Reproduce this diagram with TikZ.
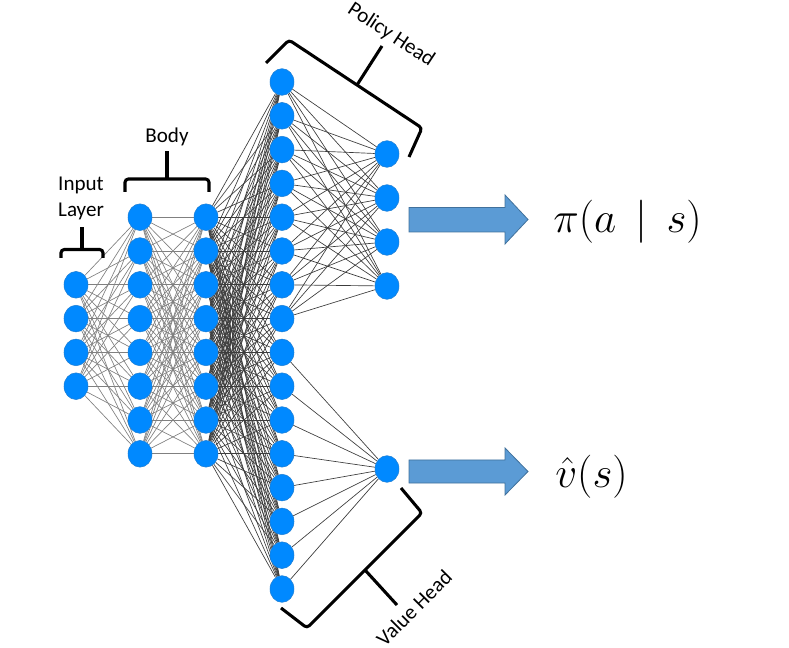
\documentclass[tikz,border=0pt]{standalone}
\usepackage{graphicx}
\usepackage[no-math]{fontspec}
\setmainfont{Carlito}
\usetikzlibrary{shapes.geometric,backgrounds}
\definecolor{nodeblue}{RGB}{0,137,255}
\definecolor{nodeedge}{RGB}{60,115,170}
\definecolor{arrowfill}{RGB}{91,155,213}
\definecolor{arrowedge}{RGB}{65,113,156}
\definecolor{edgegray}{RGB}{60,60,60}
\begin{document}
\begin{tikzpicture}[x=0.75pt,y=-0.75pt,
  neuron/.style={ellipse,fill=nodeblue,draw=nodeedge!50!nodeblue,line width=0.4pt,minimum width=18pt,minimum height=20pt,inner sep=0pt},
  darklink/.style={draw=edgegray,line width=0.5pt},
  lightlink/.style={draw=black!50,line width=0.5pt},
  bracestroke/.style={draw=black,line width=2.3pt,rounded corners=2.5pt},
  txt/.style={font=\fontsize{15.8}{18}\selectfont,inner sep=0pt},
  mathtxt/.style={font=\fontsize{24.88}{30}\selectfont,inner sep=0pt,anchor=west},
  blockarrow/.style={fill=arrowfill,draw=arrowedge,line width=0.6pt}]
\useasboundingbox (0,0) rectangle (789,648);

% layers
\foreach \i in {0,...,3} \node[neuron] (in\i) at (76,{82+33.8*(\i+6)}) {};
\foreach \i in {0,...,7} \node[neuron] (ba\i) at (140,{82+33.8*(\i+4)}) {};
\foreach \i in {0,...,7} \node[neuron] (bb\i) at (206,{82+33.8*(\i+4)}) {};
\foreach \i in {0,...,15} \node[neuron] (big\i) at (282,{82+33.8*\i}) {};
\foreach \i in {0,...,3} \node[neuron] (pol\i) at (387,{154+44*\i}) {};
\node[neuron] (val) at (387,469) {};

% connections
\begin{pgfonlayer}{background}
\foreach \i in {0,...,3} \foreach \j in {0,...,7} \draw[lightlink] (in\i) -- (ba\j);
\foreach \i in {0,...,7} \foreach \j in {0,...,7} \draw[lightlink] (ba\i) -- (bb\j);
\foreach \i in {0,...,7} \foreach \j in {0,...,15} \draw[darklink] (bb\i) -- (big\j);
\foreach \i in {0,...,7} \foreach \j in {0,...,3} \draw[darklink] (big\i) -- (pol\j);
\foreach \i in {8,...,15} \draw[darklink] (big\i) -- (val);
\end{pgfonlayer}

% brackets
\draw[bracestroke] (61,258) -- (61,249.5) -- (103,249.5) -- (103,258);
\draw[bracestroke] (82,249.5) -- (82,227);
\draw[bracestroke] (125,192) -- (125,179) -- (209,179) -- (209,192);
\draw[bracestroke] (167,179) -- (167,151);
\draw[bracestroke] (266,63) -- (289,40) -- (422,128) -- (409,157);
\draw[bracestroke] (357,85) -- (382,46);
\draw[bracestroke] (281,608) -- (307,628) -- (422,513) -- (401,488);
\draw[bracestroke] (365,570) -- (397,605);

% labels
\node[txt,anchor=base] (inputlbl) at (81,191) {Input};
\node[txt,anchor=base] (layerlbl) at (81,217) {Layer};
\node[txt,anchor=base] (bodylbl) at (167,143) {Body};
\node[txt,rotate=-33.5] (pollbl) at (391,35) {Policy Head};
\node[txt,rotate=45] (vallbl) at (414,608) {Value Head};

% output arrows
\draw[blockarrow] (409,207.5) -- (505,207.5) -- (505,195) -- (528,219.5) -- (505,244) -- (505,232) -- (409,232) -- cycle;
\draw[blockarrow] (409,460) -- (505,460) -- (505,448) -- (528,471.5) -- (505,495) -- (505,483) -- (409,483) -- cycle;

\node[mathtxt] (piout) at (553,222) {\scalebox{1.3}{$\pi(a\,\mid\,s)$}};
\node[mathtxt] (vout) at (555,477) {\scalebox{1.3}{$\hat{v}(s)$}};
\end{tikzpicture}
\end{document}
